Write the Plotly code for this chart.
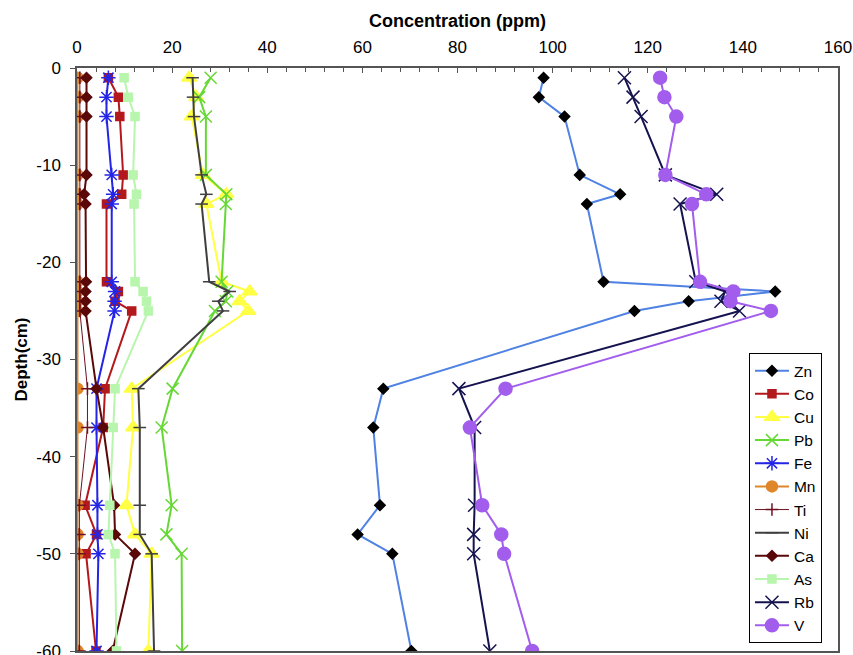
import plotly.graph_objects as go

depth = [-1, -3, -5, -11, -13, -14, -22, -23, -24, -25, -33, -37, -45, -48, -50, -60]

Zn = [98.1, 97.1, 102.5, 105.7, 114.2, 107.2, 110.7, 146.8, 128.6, 117.2, 64.4, 62.3, 63.7, 59.0, 66.3, 70.3]
Co = [6.6, 8.7, 9.0, 9.7, 9.4, 6.2, 6.2, 8.7, 8.0, 11.5, 5.9, 5.5, 1.7, 4.1, 1.9, 4.0]
Cu = [23.6, 25.1, 24.1, 26.5, 31.4, 27.2, 30.4, 36.3, 34.2, 36.0, 11.5, 11.8, 10.4, 12.2, 15.7, 15.0]
Pb = [28.1, 25.7, 27.1, 27.1, 31.4, 31.3, 30.4, 31.6, 31.3, 29.0, 20.1, 17.8, 19.9, 18.8, 22.0, 22.1]
Fe = [6.6, 6.2, 6.2, 7.3, 7.6, 7.3, 7.3, 8.0, 7.9, 7.9, 4.1, 4.1, 4.3, 4.3, 4.5, 4.1]
Mn = [0.1, 0.1, 0.1, 0.1, 0.1, 0.1, 0.1, 0.1, 0.1, 0.1, 0.1, 0.1, 0.1, 0.1, 0.1, 0.1]
Ti = [0.6, 0.6, 0.6, 0.6, 0.6, 0.6, 0.6, 0.6, 0.6, 0.6, 2.2, 2.2, 0.5, 0.5, 0.5, 0.5]
Ni = [24.3, 24.4, 24.6, 26.2, 27.2, 26.2, 27.8, 32.1, 29.7, 30.7, 12.9, 13.2, 13.2, 13.2, 15.7, 16.2]
Ca = [2.0, 2.0, 2.0, 2.0, 1.5, 1.8, 1.9, 1.8, 1.8, 1.8, 4.1, 5.5, 7.8, 8.0, 12.2, 7.5]
As = [9.9, 10.8, 12.2, 11.8, 12.5, 12.0, 12.2, 13.9, 14.6, 15.0, 8.0, 7.6, 6.9, 6.6, 8.0, 8.3]
Rb = [115.1, 116.9, 118.6, 123.7, 134.5, 126.8, 130.1, 136.3, 135.4, 139.3, 80.3, 83.6, 83.6, 83.4, 83.4, 86.8]
V = [122.6, 123.5, 126.0, 123.7, 132.3, 129.3, 131.0, 138.0, 137.4, 145.9, 90.1, 82.6, 85.2, 89.2, 89.8, 95.7]

x_ticks = [0, 20, 40, 60, 80, 100, 120, 140, 160]
y_ticks = [0, -10, -20, -30, -40, -50, -60]
y_tick_text = ["0", "-10", "-20", "-30", "-40", "-50", "-60"]

series = [
    ("Zn", Zn, "#4f82e3", "diamond", 8, "#000000", 2),
    ("Co", Co, "#b3191c", "square", 8, "#b3191c", 2),
    ("Cu", Cu, "#ffff44", "triangle-up", 13, "#ffff44", 2),
    ("Pb", Pb, "#66d836", "x-thin-open", 12, "#66d836", 2),
    ("Fe", Fe, "#2424e6", "asterisk-open", 12, "#2424e6", 2),
    ("Mn", Mn, "#e0862a", "circle", 11, "#e0862a", 2),
    ("Ti", Ti, "#6e1020", "cross-thin-open", 9, "#6e1020", 1),
    ("Ni", Ni, "#3f3f3f", "line-ew-open", 9, "#3f3f3f", 2),
    ("Ca", Ca, "#5a0808", "diamond", 8, "#5a0808", 2),
    ("As", As, "#b8f5ad", "square", 8, "#b8f5ad", 2),
    ("Rb", Rb, "#15134f", "x-thin-open", 13, "#15134f", 2),
    ("V", V, "#a25ded", "circle", 13, "#a25ded", 2),
]

fig = go.Figure()
for name, vals, col, sym, size, mcol, lw in series:
    fig.add_trace(go.Scatter(
        x=vals, y=depth, name=name, mode="lines+markers",
        line=dict(color=col, width=lw),
        marker=dict(symbol=sym, size=size, color=mcol,
                    line=dict(color=mcol, width=1.5)),
    ))

axis_col = "#555555"
fig.update_layout(
    width=853, height=655,
    margin=dict(l=77, r=15, t=68, b=4),
    paper_bgcolor="white", plot_bgcolor="white",
    font=dict(family="Liberation Sans, Arial, sans-serif", color="black", size=17),
    showlegend=True,
    legend=dict(x=0.883, y=0.511, xanchor="left", yanchor="top",
                bgcolor="white", bordercolor="black", borderwidth=1,
                font=dict(size=15.5), tracegroupgap=0, itemwidth=34),
    xaxis=dict(
        side="top", range=[0, 160], tickvals=x_ticks,
        ticks="inside", ticklen=5, tickcolor=axis_col,
        minor=dict(dtick=4, ticks="inside", ticklen=4, tickcolor=axis_col),
        showline=True, linecolor=axis_col, linewidth=1.5, mirror=True,
        showgrid=False, zeroline=False, automargin=False,
        tickfont=dict(size=17), ticklabelstandoff=6, ticklabeloverflow="allow",
        title=dict(text="<b>Concentration (ppm)</b>", font=dict(size=18), standoff=6),
    ),
    yaxis=dict(
        range=[-60, 0], tickvals=y_ticks, ticktext=y_tick_text,
        ticks="outside", ticklen=5, tickcolor=axis_col,
        showline=True, linecolor=axis_col, linewidth=1.5, mirror=True,
        showgrid=False, zeroline=False, automargin=False,
        tickfont=dict(size=17), ticklabelstandoff=6, ticklabeloverflow="allow",
        title=dict(text="<b>Depth(cm)</b>", font=dict(size=17), standoff=4),
    ),
)

fig.write_html("out.html")
